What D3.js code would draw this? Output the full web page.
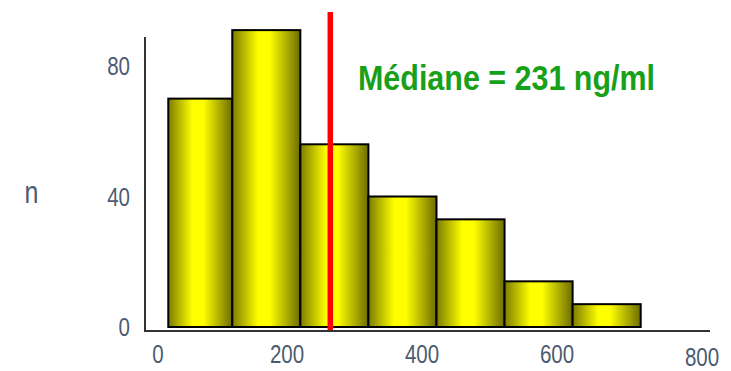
<!DOCTYPE html>
<html><head><meta charset="utf-8">
<script src="https://cdn.jsdelivr.net/npm/d3@7"></script>
<style>
html,body{margin:0;padding:0;background:#fff;}
svg{display:block;}
text{font-family:"Liberation Sans",Arial,sans-serif;}
</style></head>
<body>
<script>
// ---- data ----
const binEdges = [6, 100, 200, 300, 400, 500, 600, 700];
const counts = [70, 91, 56, 40, 33, 14, 7];
const xTickLabels = [0, 200, 400, 600, 800];
const yTickLabels = [0, 40, 80];
const medianPosition = 244;
const medianText = "Médiane = 231 ng/ml";
const yAxisTitle = "n";

const W = 731, H = 371;
const svg = d3.select("body").append("svg").attr("width", W).attr("height", H);

const x = d3.scaleLinear().domain([0, 700]).range([164.2, 640.7]);
const y = d3.scaleLinear().domain([0, 80]).range([327, 66]);
const xLabel = d3.scaleLinear().domain([0, 200, 600, 800]).range([158, 287, 557, 702]);

// condense text horizontally (narrow font look)
function condense(sel, f) {
  sel.each(function () {
    const len = this.getComputedTextLength();
    d3.select(this).attr("textLength", len * f).attr("lengthAdjust", "spacingAndGlyphs");
  });
}

const defs = svg.append("defs");
const grad = defs.append("linearGradient").attr("id", "barGrad")
  .attr("x1", "0%").attr("x2", "100%").attr("y1", "0%").attr("y2", "0%");
[[0, "#7c7c00"], [0.38, "#ffff00"], [0.55, "#ffff00"], [1, "#6c6c00"]].forEach(([o, c]) =>
  grad.append("stop").attr("offset", o).attr("stop-color", c));

// bars
svg.append("g").selectAll("rect").data(counts).join("rect")
  .attr("x", (d, i) => x(binEdges[i]))
  .attr("width", (d, i) => x(binEdges[i + 1]) - x(binEdges[i]))
  .attr("y", d => y(d))
  .attr("height", d => y(0) - y(d))
  .attr("fill", "url(#barGrad)")
  .attr("stroke", "#000")
  .attr("stroke-width", 2);

// axes lines
const axisColor = "#333";
svg.append("line").attr("x1", 145).attr("x2", 145).attr("y1", 37).attr("y2", y(0) + 4.5)
  .attr("stroke", axisColor).attr("stroke-width", 2);
svg.append("line").attr("x1", 144).attr("x2", 710).attr("y1", y(0) + 4).attr("y2", y(0) + 4)
  .attr("stroke", axisColor).attr("stroke-width", 2);

// tick labels
const labColor = "#4b5b70";
svg.append("g").selectAll("text").data(yTickLabels).join("text")
  .attr("x", 130).attr("y", d => y(d)).attr("dy", "0.36em")
  .attr("text-anchor", "end").attr("font-size", 25).attr("fill", labColor)
  .text(d => d)
  .call(condense, 0.82);
svg.append("g").selectAll("text").data(xTickLabels).join("text")
  .attr("x", d => xLabel(d))
  .attr("y", (d, i) => i === xTickLabels.length - 1 ? 366 : 363)
  .attr("text-anchor", "middle").attr("font-size", 25).attr("fill", labColor)
  .text(d => d)
  .call(condense, 0.82);

svg.append("text").attr("x", 31.5).attr("y", 202.5).attr("text-anchor", "middle")
  .attr("font-size", 32).attr("fill", labColor).text(yAxisTitle)
  .call(condense, 0.78);

// median line
svg.append("line").attr("x1", x(medianPosition)).attr("x2", x(medianPosition))
  .attr("y1", 12).attr("y2", y(0) + 3)
  .attr("stroke", "#ff0000").attr("stroke-width", 5.5);

const mt = svg.append("text").attr("x", 358).attr("y", 89.5)
  .attr("font-size", 35).attr("font-weight", "bold").attr("fill", "#19a019")
  .text(medianText);
mt.attr("textLength", 297).attr("lengthAdjust", "spacingAndGlyphs");
</script>
</body></html>
